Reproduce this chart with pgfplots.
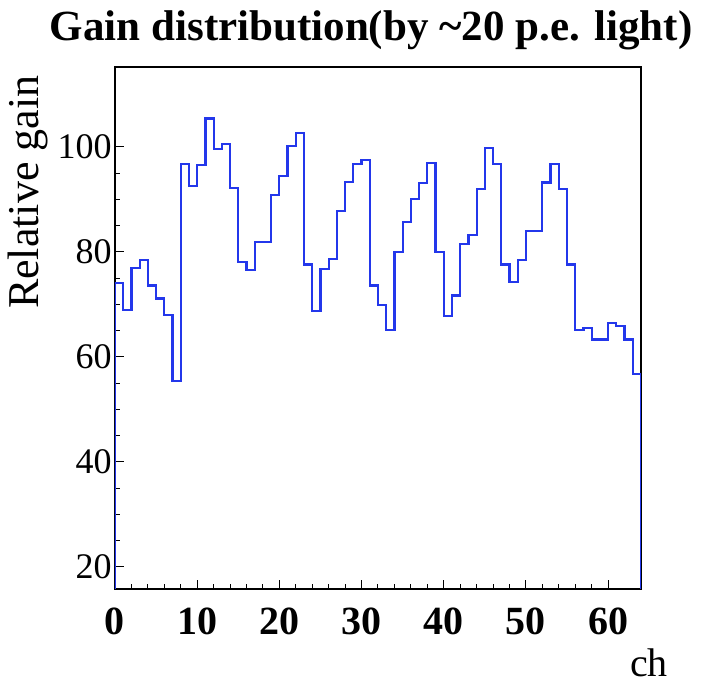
\documentclass[border=0pt]{standalone}
\usepackage{fontspec}
\setmainfont{Liberation Serif}
\usepackage{pgfplots}
\pgfplotsset{compat=1.18}

\definecolor{histblue}{RGB}{35,55,235}

\begin{document}
\begin{tikzpicture}
\useasboundingbox (-57.5pt,-47.5pt) rectangle (293.5pt,294.5pt);
\begin{axis}[
    scale only axis,
    width=263pt, height=261pt,
    at={(0,0)}, anchor=south west,
    xmin=0, xmax=64,
    ymin=15.8, ymax=115.2,
    xtick={0,10,20,30,40,50,60},
    ytick={20,40,60,80,100},
    minor x tick num=4,
    minor y tick num=3,
    tick align=inside,
    xtick pos=bottom, ytick pos=left,
    major tick length=4.5pt,
    minor tick length=2.5pt,
    axis line style={line width=0.6pt},
    every tick/.style={black, line width=0.5pt},
    /pgf/number format/assume math mode=true,
    xticklabel style={font=\fontsize{20}{24}\selectfont\bfseries, anchor=base, yshift=-23pt},
    yticklabel style={font=\fontsize{18}{22}\selectfont, anchor=east, inner sep=0pt, xshift=-1.5pt},
    title={Gain distribution(by \textasciitilde20 p.e. light)},
    title style={font=\fontsize{21.5}{26}\selectfont\bfseries, at={(rel axis cs:0.487,1)}, anchor=base, yshift=7pt},
    ylabel={Relative gain},
    ylabel style={font=\fontsize{22}{26}\selectfont, at={(rel axis cs:0,0.76)}, anchor=center, yshift=43.5pt},
    xlabel={ch},
    xlabel style={font=\fontsize{20}{24}\selectfont, at={(rel axis cs:1,0)}, anchor=base, xshift=4pt, yshift=-44pt},
]
% histogram contents, one value per channel (bin left edge, value)
\addplot[const plot, histblue, line width=1.1pt] coordinates {
(0,0) (0,74.0) (1,68.9) (2,76.9) (3,78.5) (4,73.6) (5,71.1) (6,67.9) (7,55.4)
(8,96.7) (9,92.5) (10,96.5) (11,105.4) (12,99.6) (13,100.5) (14,92.1) (15,78.0)
(16,76.5) (17,81.9) (18,81.9) (19,90.8) (20,94.4) (21,100.1) (22,102.6) (23,77.6)
(24,68.7) (25,76.7) (26,78.6) (27,87.8) (28,93.3) (29,96.7) (30,97.5) (31,73.6)
(32,69.9) (33,65.1) (34,79.9) (35,85.7) (36,90.0) (37,93.1) (38,96.9) (39,80.0)
(40,67.8) (41,71.7) (42,81.5) (43,83.2) (44,91.9) (45,99.7) (46,96.7) (47,77.6)
(48,74.3) (49,78.4) (50,84.0) (51,84.0) (52,93.2) (53,96.7) (54,91.9) (55,77.6)
(56,65.1) (57,65.5) (58,63.3) (59,63.3) (60,66.5) (61,65.9) (62,63.3) (63,56.8)
(64,56.8) (64,0)
};
\end{axis}
\end{tikzpicture}
\end{document}
